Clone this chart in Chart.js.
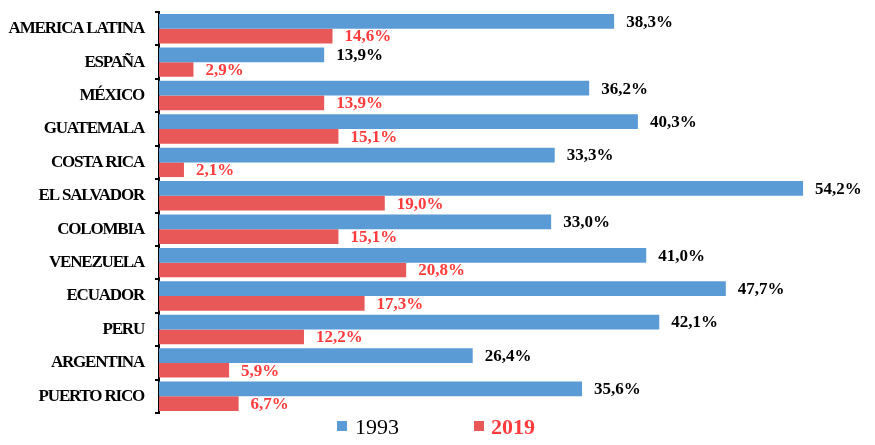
<!DOCTYPE html>
<html lang="es">
<head>
  <meta charset="UTF-8">
  <title>1993 vs 2019</title>
  <script src="https://cdn.jsdelivr.net/npm/chart.js"></script>
  <style>
    html, body { margin: 0; padding: 0; background: #fff; }
    #wrap { width: 875px; height: 445px; }
  </style>
</head>
<body>
  <div id="wrap"><canvas id="grafico"></canvas></div>
  <script>
    // Datos
    const paises = ['AMERICA LATINA', 'ESPAÑA', 'MÉXICO', 'GUATEMALA', 'COSTA RICA', 'EL SALVADOR',
                    'COLOMBIA', 'VENEZUELA', 'ECUADOR', 'PERU', 'ARGENTINA', 'PUERTO RICO'];
    const valores1993 = [38.3, 13.9, 36.2, 40.3, 33.3, 54.2, 33.0, 41.0, 47.7, 42.1, 26.4, 35.6];
    const valores2019 = [14.6, 2.9, 13.9, 15.1, 2.1, 19.0, 15.1, 20.8, 17.3, 12.2, 5.9, 6.7];
    const series = ['1993', '2019'];

    const azul = '#5B9BD5';
    const rojo = '#E85858';
    const rojoTexto = '#FF3B3B';
    const serif = '"Liberation Serif", "Times New Roman", serif';

    // Letras mas juntas en las etiquetas del eje (como en el original)
    const espaciado = {
      id: 'espaciado',
      beforeDraw(chart) { chart.ctx.letterSpacing = '-1.2px'; },
      beforeDatasetsDraw(chart) { chart.ctx.letterSpacing = '0px'; }
    };

    // Etiquetas de valor al final de cada barra
    const etiquetas = {
      id: 'etiquetas',
      afterDatasetsDraw(chart) {
        const ctx = chart.ctx;
        ctx.save();
        ctx.font = 'bold 17px ' + serif;
        ctx.textBaseline = 'middle';
        ctx.textAlign = 'left';
        chart.data.datasets.forEach((ds, i) => {
          ctx.fillStyle = i === 0 ? '#000' : rojoTexto;
          chart.getDatasetMeta(i).data.forEach((bar, j) => {
            const txt = ds.data[j].toFixed(1).replace('.', ',') + '%';
            ctx.fillText(txt, bar.x + 12, bar.y + 1);
          });
        });
        ctx.restore();
      }
    };

    // Leyenda propia (1993 normal, 2019 en rojo negrita)
    const leyenda = {
      id: 'leyenda',
      afterDraw(chart) {
        const ctx = chart.ctx;
        ctx.save();
        ctx.textBaseline = 'alphabetic';
        ctx.fillStyle = azul;
        ctx.fillRect(337, 421, 10, 10);
        ctx.font = '22px ' + serif;
        ctx.fillStyle = '#000';
        ctx.fillText(series[0], 355, 434);
        ctx.fillStyle = rojo;
        ctx.fillRect(474, 421, 10, 10);
        ctx.font = 'bold 22px ' + serif;
        ctx.fillStyle = rojoTexto;
        ctx.fillText(series[1], 491, 434);
        ctx.restore();
      }
    };

    const ctx = document.getElementById('grafico').getContext('2d');
    const chart = new Chart(ctx, {
      type: 'bar',
      data: {
        labels: paises,
        datasets: [
          { label: series[0], data: valores1993, backgroundColor: azul },
          { label: series[1], data: valores2019, backgroundColor: rojo }
        ]
      },
      options: {
        indexAxis: 'y',
        responsive: true,
        maintainAspectRatio: false,
        animation: false,
        layout: { padding: { top: 12, bottom: 32, right: 3, left: 0 } },
        datasets: { bar: { categoryPercentage: 0.88, barPercentage: 1 } },
        scales: {
          x: { display: false, min: 0, max: 60 },
          y: {
            afterFit(scale) {
              scale.width = 159;
              scale.paddingTop = 0;
              scale.paddingBottom = 0;
            },
            border: { color: '#000', width: 2 },
            grid: { drawOnChartArea: false, color: '#000', tickLength: 4, lineWidth: 2 },
            ticks: {
              color: '#000',
              padding: 11,
              font: { family: serif, size: 17, weight: 'bold' }
            }
          }
        },
        plugins: {
          legend: { display: false },
          tooltip: { enabled: false }
        }
      },
      plugins: [espaciado, etiquetas, leyenda]
    });
  </script>
</body>
</html>
